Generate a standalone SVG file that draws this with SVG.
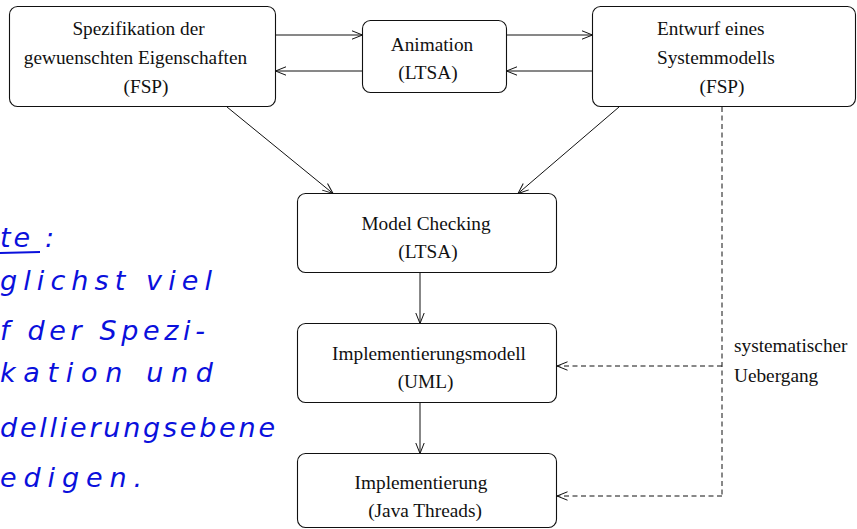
<svg xmlns="http://www.w3.org/2000/svg" width="857" height="529" viewBox="0 0 857 529">
<defs>
<marker id="arr" markerUnits="userSpaceOnUse" markerWidth="14" markerHeight="12" refX="11" refY="5" orient="auto">
<path d="M0.5,0.8 L11,5 L0.5,9.2" fill="none" stroke="#111" stroke-width="1"/>
</marker>
<style>
.box{fill:#fff;stroke:#111;stroke-width:1.1}
.t{font-family:"Liberation Serif","Times New Roman",serif;font-size:19.3px;fill:#111}
.m{text-anchor:middle}
.c{fill:none;stroke:#111;stroke-width:1}
.d{fill:none;stroke:#111;stroke-width:1;stroke-dasharray:5 3.5}
.h{font-family:"DejaVu Sans",sans-serif;font-style:italic;font-size:27px;fill:#0a10dc}
</style>
</defs>
<g id="connectors">
<line class="c" x1="275.5" y1="35" x2="362.5" y2="35" marker-end="url(#arr)"/>
<line class="c" x1="362.5" y1="71" x2="275.5" y2="71" marker-end="url(#arr)"/>
<line class="c" x1="506.5" y1="35" x2="592.5" y2="35" marker-end="url(#arr)"/>
<line class="c" x1="592.5" y1="71" x2="506.5" y2="71" marker-end="url(#arr)"/>
<line class="c" x1="227" y1="107" x2="333" y2="193.5" marker-end="url(#arr)"/>
<line class="c" x1="619" y1="107" x2="518" y2="193.5" marker-end="url(#arr)"/>
<line class="c" x1="420" y1="273" x2="420" y2="323.5" marker-end="url(#arr)"/>
<line class="c" x1="420" y1="403" x2="420" y2="453.5" marker-end="url(#arr)"/>
<path class="d" d="M722,107 L722,496"/>
<line class="d" x1="722" y1="366" x2="557" y2="366" marker-end="url(#arr)"/>
<line class="d" x1="722" y1="496" x2="557" y2="496" marker-end="url(#arr)"/>
<text class="t" x="734" y="352">systematischer</text>
<text class="t" x="734" y="382">Uebergang</text>
</g>
<g id="spezifikation">
<rect class="box" x="9.5" y="6.5" width="266" height="100" rx="8"/>
<text class="t m" x="138.5" y="35">Spezifikation der</text>
<text class="t m" x="135.5" y="64">gewuenschten Eigenschaften</text>
<text class="t m" x="146" y="93">(FSP)</text>
</g>
<g id="animation">
<rect class="box" x="362.5" y="20.5" width="144" height="72" rx="8"/>
<text class="t m" x="432" y="51">Animation</text>
<text class="t m" x="428" y="78.5">(LTSA)</text>
</g>
<g id="entwurf">
<rect class="box" x="592.5" y="6.5" width="263" height="100" rx="8"/>
<text class="t" x="657" y="35">Entwurf eines</text>
<text class="t" x="657" y="64">Systemmodells</text>
<text class="t m" x="722" y="93">(FSP)</text>
</g>
<g id="modelchecking">
<rect class="box" x="297.5" y="193.5" width="259" height="79" rx="8"/>
<text class="t m" x="426" y="230">Model Checking</text>
<text class="t m" x="428" y="258">(LTSA)</text>
</g>
<g id="implmodell">
<rect class="box" x="297.5" y="323.5" width="259" height="79" rx="8"/>
<text class="t m" x="429" y="360">Implementierungsmodell</text>
<text class="t m" x="425.5" y="388">(UML)</text>
</g>
<g id="impl">
<rect class="box" x="297.5" y="453.5" width="259" height="74" rx="8"/>
<text class="t m" x="421" y="489">Implementierung</text>
<text class="t m" x="425" y="517">(Java Threads)</text>
</g>
<g id="note">
<text class="h" x="0" y="247" textLength="54" lengthAdjust="spacing">te :</text>
<line x1="0" y1="253" x2="40" y2="252" stroke="#0a10dc" stroke-width="2.2"/>
<text class="h" x="0" y="290" textLength="212" lengthAdjust="spacing">glichst viel</text>
<text class="h" x="0" y="340" textLength="205" lengthAdjust="spacing">f der Spezi-</text>
<text class="h" x="0" y="382" textLength="213" lengthAdjust="spacing">kation und</text>
<text class="h" x="0" y="437" textLength="275" lengthAdjust="spacing">dellierungsebene</text>
<text class="h" x="0" y="487" textLength="142" lengthAdjust="spacing">edigen.</text>
</g>
</svg>
